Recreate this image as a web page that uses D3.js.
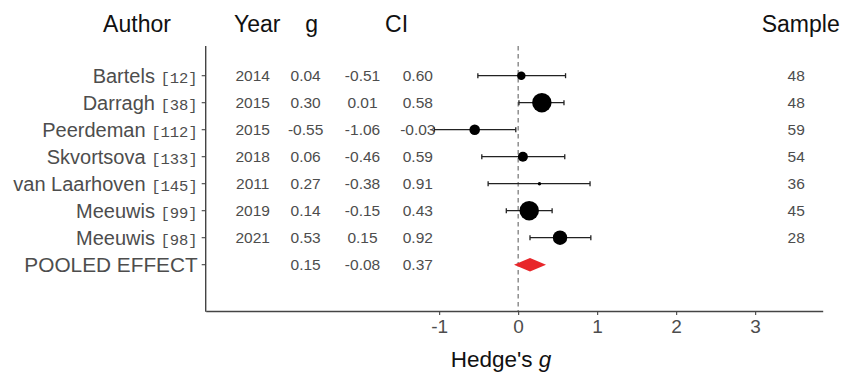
<!DOCTYPE html>
<html>
<head>
<meta charset="utf-8">
<script src="https://cdn.jsdelivr.net/npm/d3@7"></script>
<style>
  html, body { margin: 0; padding: 0; background: #fff; }
  svg { display: block; }
</style>
</head>
<body>
<svg id="chart" width="843" height="373"></svg>
<script>
// ---------------- data ----------------
const authors   = ["Bartels", "Darragh", "Peerdeman", "Skvortsova", "van Laarhoven", "Meeuwis", "Meeuwis", "POOLED EFFECT"];
const refs      = ["[12]", "[38]", "[112]", "[133]", "[145]", "[99]", "[98]", ""];
const years     = ["2014", "2015", "2015", "2018", "2011", "2019", "2021", ""];
const gValues   = [0.04, 0.30, -0.55, 0.06, 0.27, 0.14, 0.53, 0.15];
const ciLow     = [-0.51, 0.01, -1.06, -0.46, -0.38, -0.15, 0.15, -0.08];
const ciHigh    = [0.60, 0.58, -0.03, 0.59, 0.91, 0.43, 0.92, 0.37];
const samples   = ["48", "48", "59", "54", "36", "45", "28", ""];
const weights   = [18, 94, 28, 25, 3, 94, 52, null];
const xTicks    = [-1, 0, 1, 2, 3];
const headers   = ["Author", "Year", "g", "CI", "Sample"];

// ---------------- layout ----------------
const svg = d3.select("#chart");
const panel = { left: 205.7, right: 822.7, top: 46, bottom: 311 };

// data-space positions of the text columns
const colX = { year: -3.36, g: -2.69, lo: -1.97, hi: -1.27, sample: 3.52 };
const lo = -3.6, hi = 3.5, pad = (hi - lo) * 0.05;
const x = d3.scaleLinear().domain([lo - pad, hi + pad]).range([panel.left, panel.right]);
const y = d3.scaleLinear().domain([0, authors.length - 1]).range([75.7, 264.7]);
const r = d3.scaleSqrt().domain([0, 94]).range([0, 9.7]);

const gray30 = "#4d4d4d";
const sansFont = "'Liberation Sans', Arial, sans-serif";

// dashed zero line
svg.append("line")
  .attr("x1", x(0)).attr("x2", x(0))
  .attr("y1", panel.top).attr("y2", panel.bottom)
  .attr("stroke", "#666").attr("stroke-width", 1.1)
  .attr("stroke-dasharray", "4.5,3.5");

// axes
const xAxis = d3.axisBottom(x).tickValues(xTicks).tickSizeInner(4).tickSizeOuter(0)
  .tickPadding(5).tickFormat(d => String(d));
const gx = svg.append("g").attr("transform", `translate(0,${panel.bottom})`).call(xAxis);
gx.select(".domain").attr("stroke", "#444").attr("stroke-width", 1.4);
gx.selectAll(".tick line").attr("stroke", "#444").attr("stroke-width", 1.1);
gx.selectAll(".tick text").attr("font-family", sansFont).attr("font-size", 19).attr("fill", gray30);

// left axis line
svg.append("line")
  .attr("x1", panel.left).attr("x2", panel.left)
  .attr("y1", panel.top).attr("y2", panel.bottom + 0.7)
  .attr("stroke", "#444").attr("stroke-width", 1.4);

// y ticks and author labels
const rows = authors.map((a, i) => ({ i, a, ref: refs[i] }));
svg.selectAll(".ytick").data(rows).enter().append("line")
  .attr("x1", panel.left - 4).attr("x2", panel.left)
  .attr("y1", d => y(d.i)).attr("y2", d => y(d.i))
  .attr("stroke", "#444").attr("stroke-width", 1.1);

const lab = svg.selectAll(".ylab").data(rows).enter().append("text")
  .attr("x", panel.left - 8).attr("y", d => y(d.i)).attr("dy", "0.36em")
  .attr("text-anchor", "end").attr("fill", gray30)
  .attr("font-family", sansFont).attr("font-size", 20);
lab.append("tspan").text(d => d.ref ? d.a + " " : d.a).attr("font-size", d => d.ref ? 20 : 20.8);
lab.filter(d => d.ref).append("tspan")
  .attr("font-family", "'Liberation Mono', 'DejaVu Sans Mono', monospace")
  .attr("font-size", 15.5)
  .text(d => d.ref);

// study rows: error bars + points
const studies = d3.range(authors.length - 1);
const eb = svg.append("g").attr("stroke", "#222").attr("stroke-width", 1.3);
eb.selectAll(".bar").data(studies).enter().append("line")
  .attr("x1", i => x(ciLow[i])).attr("x2", i => x(ciHigh[i]))
  .attr("y1", i => y(i)).attr("y2", i => y(i));
eb.selectAll(".capL").data(studies).enter().append("line")
  .attr("x1", i => x(ciLow[i])).attr("x2", i => x(ciLow[i]))
  .attr("y1", i => y(i) - 2.5).attr("y2", i => y(i) + 2.5);
eb.selectAll(".capR").data(studies).enter().append("line")
  .attr("x1", i => x(ciHigh[i])).attr("x2", i => x(ciHigh[i]))
  .attr("y1", i => y(i) - 2.5).attr("y2", i => y(i) + 2.5);

svg.selectAll(".pt").data(studies).enter().append("circle")
  .attr("cx", i => x(gValues[i])).attr("cy", i => y(i))
  .attr("r", i => r(weights[i])).attr("fill", "#000");

// pooled effect diamond
const pi = authors.length - 1;
const cx = x(gValues[pi]), cy = y(pi), hw = 16, hh = 6.7;
svg.append("path")
  .attr("d", `M${cx - hw},${cy} L${cx},${cy - hh} L${cx + hw},${cy} L${cx},${cy + hh} Z`)
  .attr("fill", "#e8262a");

// table columns (drawn on top)
function column(values, key) {
  svg.selectAll(".c-" + key).data(values).enter().append("text")
    .attr("x", x(colX[key])).attr("y", (d, i) => y(i)).attr("dy", "0.36em")
    .attr("text-anchor", "middle").attr("fill", gray30)
    .attr("font-family", sansFont).attr("font-size", 15.5)
    .text(d => d);
}
column(years, "year");
column(gValues.map(d => d.toFixed(2)), "g");
column(ciLow.map(d => d.toFixed(2)), "lo");
column(ciHigh.map(d => d.toFixed(2)), "hi");
column(samples, "sample");

// headers
const headerX = [137, x(colX.year) + 4.5, x(colX.g) + 6, x(colX.lo) + 34, x(colX.sample) + 4.5];
svg.selectAll(".hdr").data(headers).enter().append("text")
  .attr("x", (d, i) => headerX[i]).attr("y", 32)
  .attr("text-anchor", "middle").attr("fill", "#111")
  .attr("font-family", sansFont).attr("font-size", 23)
  .text(d => d);

// x axis title
const title = svg.append("text")
  .attr("x", 501).attr("y", 367)
  .attr("text-anchor", "middle").attr("fill", "#111")
  .attr("font-family", sansFont).attr("font-size", 22.5);
title.append("tspan").text("Hedge's ");
title.append("tspan").attr("font-style", "italic").text("g");
</script>
</body>
</html>
